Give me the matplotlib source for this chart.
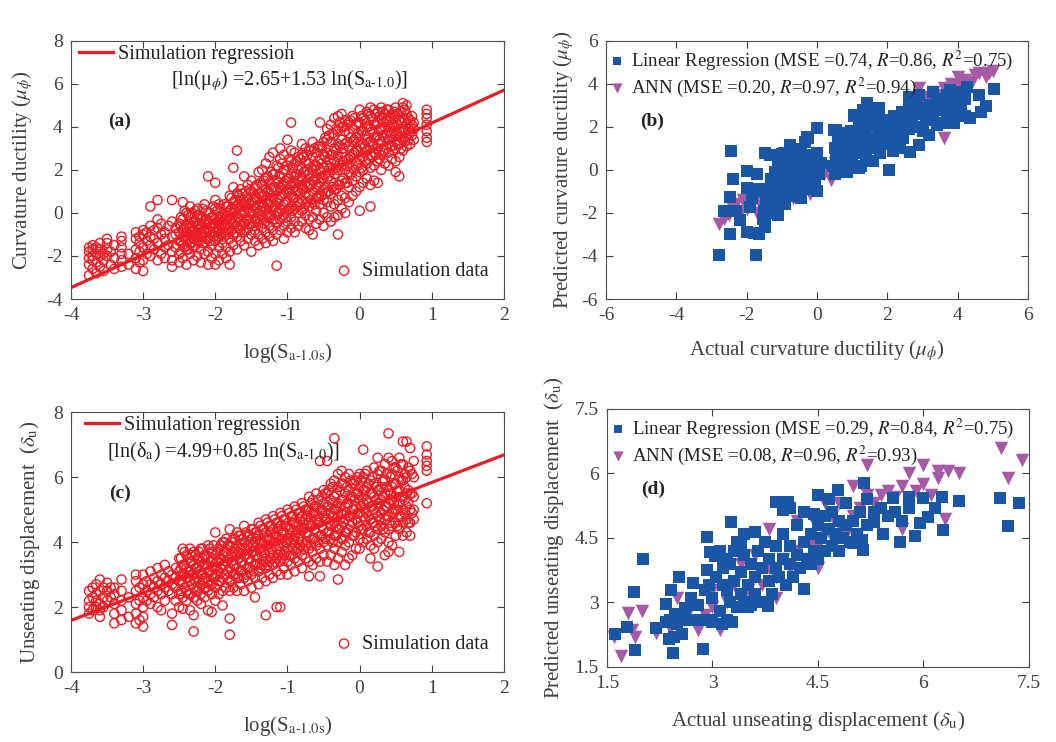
import matplotlib
matplotlib.use('Agg')
import matplotlib.pyplot as plt

plt.rcParams['font.family'] = ['Liberation Serif', 'DejaVu Serif']
plt.rcParams['mathtext.fontset'] = 'stix'
plt.rcParams['axes.unicode_minus'] = False

RED = '#ec1c24'
BLUE = '#1b56a6'
PURPLE = '#a65aa6'
GREY = '#404040'

# ---- (a) curvature ductility vs log(Sa) : columns of simulation data
a_col_x = [-3.75, -3.70, -3.65, -3.60, -3.55, -3.50, -3.45, -3.40, -3.30, -3.20, -3.10, -3.05, -3.00,
           -2.95, -2.90, -2.85, -2.80, -2.75, -2.70, -2.65, -2.60, -2.55, -2.50, -2.45, -2.40, -2.35,
           -2.30, -2.25, -2.20, -2.15, -2.10, -2.05, -2.00, -1.95, -1.90, -1.85, -1.80, -1.75, -1.70,
           -1.65, -1.60, -1.55, -1.50, -1.45, -1.40, -1.35, -1.30, -1.25, -1.20, -1.15, -1.10, -1.05,
           -1.00, -0.95, -0.90, -0.85, -0.80, -0.75, -0.70, -0.65, -0.60, -0.55, -0.50, -0.45, -0.40,
           -0.35, -0.30, -0.25, -0.20, -0.15, -0.10, -0.05, 0.00, 0.05, 0.10, 0.15, 0.20, 0.25, 0.30,
           0.35, 0.40, 0.45, 0.50, 0.55, 0.60, 0.65, 0.70, 0.75, 0.93]
a_col_y = [
    [-2.9, -2.4, -2.1, -1.8, -1.6], [-2.6, -2.2, -2.0, -1.7, -1.5], [-2.8, -2.3, -1.9, -1.6],
    [-2.5, -2.0, -1.7, -1.4], [-2.7, -2.2, -1.9], [-2.0, -1.7, -1.4, -1.2], [-2.4, -1.8],
    [-2.6, -2.1, -1.5], [-2.5, -2.2, -1.9, -1.6, -1.3, -1.1], [-2.4, -1.9],
    [-2.6, -2.1, -1.7, -1.2, -0.9], [-2.3, -1.8, -1.4, -1.1], [-2.7, -2.2, -1.6, -1.0, -0.8],
    [-1.9, -1.3, -0.9], [-2.0, -1.5, -1.1, -0.6, 0.3], [-1.7, -1.2, -0.8],
    [-2.2, -1.4, -0.7, -0.3, 0.6], [-1.9, -1.0, -0.5], [-2.1, -1.6, -1.2, -0.9], [-1.5, -0.6],
    [-2.5, -2.2, -1.8, -1.1, -0.4, 0.6], [-1.6, -1.0, -0.7], [-2.3, -1.9, -1.3, -0.9, -0.5],
    [-2.1, -1.5, -1.1, -0.8, -0.3, 0.5], [-2.4, -1.7, -1.2, -0.9, -0.6, 0.0],
    [-1.9, -1.4, -1.0, -0.7, -0.2, 0.3], [-2.2, -1.6, -1.2, -0.8, -0.4],
    [-2.0, -1.3, -1.0, -0.6, -0.1, 0.2], [-2.3, -1.7, -1.1, -0.7, -0.3],
    [-1.9, -1.4, -0.9, -0.5, 0.4], [-2.4, -1.8, -1.2, -0.8, -0.4, 0.0, 1.7],
    [-2.1, -1.5, -1.0, -0.6, -0.2], [-2.4, -1.9, -1.3, -0.9, -0.5, 0.2, 0.6, 1.4],
    [-2.2, -1.6, -1.1, -0.7, -0.3, 0.4], [-1.9, -1.4, -0.9, -0.5, -0.1],
    [-2.1, -1.6, -1.0, -0.6, -0.2, 0.3], [-2.4, -1.8, -1.2, -0.7, -0.3, 0.1, 0.8],
    [-1.5, -1.0, -0.5, 0.0, 0.5, 1.2, 2.1], [-1.7, -1.1, -0.6, -0.2, 0.3, 0.9, 2.9],
    [-1.3, -0.8, -0.4, 0.1, 0.6, 1.1], [-1.5, -0.9, -0.5, 0.0, 0.4, 1.7],
    [-1.2, -0.7, -0.3, 0.2, 0.7, 1.3], [-1.8, -1.0, -0.5, 0.0, 0.5, 1.0, 1.5],
    [-1.3, -0.8, -0.3, 0.2, 0.7, 1.2], [-1.5, -1.0, -0.5, 0.0, 0.4, 0.9, 1.9],
    [-1.2, -0.7, -0.2, 0.3, 0.8, 1.3, 2.0], [-1.4, -0.9, -0.4, 0.1, 0.6, 1.1, 1.6, 2.3],
    [-1.1, -0.6, -0.1, 0.4, 0.9, 1.4, 2.6], [-1.3, -0.8, -0.3, 0.2, 0.7, 1.2, 1.8, 2.8],
    [-2.45, -1.0, -0.5, 0.0, 0.5, 1.0, 1.5, 2.2], [-0.8, -0.3, 0.2, 0.7, 1.2, 1.7, 2.5, 3.0],
    [-1.2, -0.6, -0.1, 0.4, 0.9, 1.4, 2.0, 2.7], [-0.9, -0.4, 0.1, 0.6, 1.1, 1.6, 2.2, 3.4],
    [-0.7, -0.2, 0.3, 0.8, 1.3, 1.8, 2.4, 2.9, 4.2], [-0.9, -0.4, 0.2, 0.7, 1.2, 1.7, 2.3, 2.8],
    [-0.6, 0.0, 0.5, 1.0, 1.5, 2.0, 2.6], [-0.4, 0.1, 0.6, 1.1, 1.6, 2.1, 2.7, 3.2],
    [-0.7, -0.1, 0.4, 0.9, 1.4, 1.9, 2.4, 3.0], [-0.8, -0.3, 0.3, 0.8, 1.3, 1.8, 2.3, 2.9],
    [-1.0, -0.2, 0.5, 1.0, 1.5, 2.0, 2.6, 3.3], [-0.5, 0.1, 0.7, 1.2, 1.7, 2.2, 2.8],
    [-0.3, 0.4, 0.9, 1.4, 2.0, 2.5, 3.1, 4.2], [-0.6, 0.0, 0.6, 1.1, 1.6, 2.1, 2.7, 3.3],
    [-0.2, 0.5, 1.0, 1.6, 2.2, 2.8, 3.4, 3.9], [-0.4, 0.3, 0.9, 1.5, 2.1, 2.7, 3.3, 4.1],
    [-0.2, 0.4, 1.1, 1.8, 2.4, 3.0, 3.6, 4.4], [-1.0, -0.1, 0.6, 1.3, 2.0, 2.6, 3.2, 3.8, 4.5],
    [0.2, 0.8, 1.5, 2.2, 2.8, 3.4, 4.0, 4.6], [0.0, 0.7, 1.4, 2.0, 2.6, 3.2, 3.8, 4.3],
    [0.5, 1.2, 1.9, 2.5, 3.1, 3.7, 4.2], [0.8, 1.5, 2.1, 2.7, 3.3, 3.9, 4.5],
    [1.0, 1.7, 2.3, 2.9, 3.5, 4.1], [0.1, 1.2, 1.9, 2.5, 3.1, 3.6, 4.2, 4.8],
    [1.4, 2.0, 2.6, 3.2, 3.8, 4.4], [1.6, 2.3, 2.9, 3.4, 4.0, 4.7],
    [0.3, 1.3, 2.1, 2.7, 3.3, 3.9, 4.5, 4.9], [1.5, 2.2, 2.8, 3.5, 4.1, 4.8],
    [1.4, 2.4, 3.0, 3.6, 4.2, 4.7], [2.0, 2.7, 3.3, 3.9, 4.4, 4.9], [2.3, 2.9, 3.5, 4.0, 4.6],
    [2.2, 2.8, 3.4, 3.8, 4.3, 4.8], [2.5, 3.1, 3.7, 4.1, 4.6], [1.9, 2.4, 3.0, 3.6, 4.0, 4.5, 4.9],
    [1.7, 2.6, 3.2, 3.8, 4.3], [2.9, 3.4, 3.9, 4.4, 4.9, 5.1], [3.1, 3.6, 4.1, 4.6, 5.0],
    [3.2, 3.7, 4.0, 4.3], [3.4, 3.9, 4.2], [3.3, 3.5, 3.8, 4.1, 4.4, 4.6, 4.8]]

# extra samples in the dense core (between the columns above)
fill_col_x = [-2.475, -2.425, -2.375, -2.325, -2.275, -2.225, -2.175, -2.125, -2.075, -2.025,
              -1.975, -1.925, -1.875, -1.825, -1.775, -1.725, -1.675, -1.625, -1.575, -1.525,
              -1.475, -1.425, -1.375, -1.325, -1.275, -1.225, -1.175, -1.125, -1.075, -1.025,
              -0.975, -0.925, -0.875, -0.825, -0.775, -0.725, -0.675, -0.625, -0.575, -0.525,
              -0.475, -0.425, -0.375, -0.325, -0.275, -0.225, -0.175, -0.125, -0.075, -0.025,
              0.025, 0.075, 0.125, 0.175, 0.225, 0.275, 0.325, 0.375, 0.425, 0.475, 0.525, 0.575,
              0.625, 0.675, 0.725]
a_fill_y = [
    [-1.8, -1.3, -0.6, -0.2], [-1.6, -1.1, -0.7, 0.1], [-1.7, -1.2, -0.5, -0.1],
    [-1.4, -0.9, -0.6, 0.0], [-1.5, -1.0, -0.4, 0.1], [-1.3, -0.8, -0.5, -0.1],
    [-1.4, -1.0, -0.2, 0.2], [-1.2, -0.7, -0.3, 0.1], [-1.3, -0.9, -0.5, 0.0],
    [-1.1, -0.7, -0.2, 0.3], [-1.2, -0.8, -0.4, 0.1], [-1.0, -0.6, -0.2, 0.2],
    [-1.1, -0.7, -0.3, 0.4], [-0.9, -0.5, 0.0, 0.3], [-0.8, -0.3, 0.2, 0.7],
    [-0.9, -0.4, 0.1, 0.6], [-0.7, -0.2, 0.4, 0.8], [-0.6, -0.1, 0.3, 0.9],
    [-0.8, -0.3, 0.5, 1.0], [-0.5, 0.0, 0.4, 1.1], [-0.6, 0.1, 0.6, 0.9],
    [-0.4, 0.2, 0.7, 1.3], [-0.3, 0.1, 0.9, 1.4], [-0.5, 0.3, 0.8, 1.5],
    [-0.2, 0.4, 1.0, 1.7], [-0.1, 0.5, 1.1, 1.9], [-0.3, 0.3, 1.2, 1.8],
    [0.0, 0.6, 1.4, 2.1], [0.1, 0.8, 1.3, 2.3], [-0.2, 0.5, 1.5, 2.0],
    [0.2, 0.9, 1.6, 2.5], [0.1, 0.7, 1.4, 2.1], [0.3, 1.0, 1.8, 2.4],
    [0.4, 0.9, 1.7, 2.5], [0.2, 1.1, 1.9, 2.6], [0.5, 1.2, 2.0, 2.7],
    [0.6, 1.3, 2.1, 2.9], [0.4, 1.5, 2.2, 3.0], [0.7, 1.3, 2.4, 3.1],
    [0.8, 1.6, 2.3, 3.0], [0.9, 1.8, 2.6, 3.5], [1.0, 1.7, 2.5, 3.6],
    [1.2, 2.0, 2.7, 3.7], [1.1, 2.1, 2.9, 3.9], [1.3, 2.3, 3.1, 4.2],
    [1.6, 2.4, 3.0, 4.0], [1.4, 2.2, 3.3, 4.1], [1.8, 2.6, 3.5, 4.3],
    [2.0, 2.8, 3.4, 4.4], [2.2, 2.9, 3.7, 4.2], [2.1, 3.0, 3.8, 4.5],
    [2.4, 3.1, 3.6, 4.3], [2.5, 3.3, 4.0, 4.6], [2.6, 3.2, 3.8, 4.4],
    [2.7, 3.5, 4.1, 4.6], [2.5, 3.4, 3.9, 4.5], [2.8, 3.6, 4.2, 4.7],
    [3.0, 3.7, 4.3, 4.8], [3.1, 3.6, 4.0, 4.5], [2.9, 3.8, 4.4, 4.7],
    [3.2, 3.7, 4.1, 4.6], [3.0, 3.5, 4.2, 4.7], [3.3, 3.8, 4.3, 4.8],
    [3.4, 3.9, 4.4], [3.6, 4.1, 4.5]]
a_coef = (2.65, 1.53)

# ---- (c) unseating displacement vs log(Sa)
c_col_y = [
    [1.8, 2.0, 2.2, 2.5], [1.9, 2.3, 2.6], [2.0, 2.2, 2.4, 2.7], [1.7, 1.9, 2.1, 2.5, 2.85],
    [2.0, 2.3, 2.6], [2.2, 2.5, 2.75], [2.3, 2.6], [1.5, 1.8, 2.1, 2.4, 2.6],
    [1.6, 1.9, 2.2, 2.5, 2.85], [1.7, 2.3], [1.5, 1.8, 2.1, 2.5, 2.8, 3.0], [1.6, 2.2, 2.6],
    [1.4, 1.7, 2.0, 2.3, 2.7, 3.0], [2.2, 2.5, 2.8], [2.1, 2.4, 2.7, 3.1], [2.3, 2.6, 2.9],
    [2.0, 2.5, 2.8, 3.2], [1.9, 2.4, 2.7, 3.0], [2.2, 2.6, 2.9, 3.3], [2.5, 2.8, 3.1],
    [1.45, 1.8, 2.4, 2.7, 3.0], [2.2, 2.6, 2.9, 3.2], [2.0, 2.4, 2.8, 3.1, 3.5],
    [1.95, 2.3, 2.7, 3.0, 3.3, 3.8], [2.2, 2.5, 2.9, 3.2, 3.6], [1.9, 2.4, 2.8, 3.1, 3.4, 3.8],
    [1.25, 1.75, 2.3, 2.6, 3.0, 3.3, 3.7], [2.2, 2.5, 2.9, 3.2, 3.5],
    [2.1, 2.4, 2.7, 3.0, 3.4, 3.8], [2.3, 2.6, 2.9, 3.3, 3.6], [1.9, 2.5, 2.8, 3.1, 3.5, 3.9],
    [1.85, 2.4, 2.7, 3.0, 3.4, 3.7], [2.2, 2.6, 2.9, 3.2, 3.6, 4.3], [2.4, 2.8, 3.1, 3.4, 3.8],
    [2.05, 2.5, 2.9, 3.3, 3.6, 4.0], [2.6, 3.0, 3.4, 3.7, 4.1],
    [1.15, 1.65, 2.5, 2.8, 3.2, 3.5, 3.9, 4.4], [2.6, 3.0, 3.3, 3.7, 4.1],
    [2.5, 2.9, 3.2, 3.6, 3.9, 4.3], [2.7, 3.1, 3.4, 3.8, 4.2], [2.5, 2.9, 3.3, 3.6, 4.0, 4.5],
    [2.8, 3.2, 3.5, 3.9, 4.2], [2.6, 3.0, 3.4, 3.7, 4.1, 4.4], [2.3, 2.9, 3.3, 3.6, 4.0, 4.3],
    [2.7, 3.1, 3.5, 3.8, 4.2, 4.6], [2.9, 3.3, 3.6, 4.0, 4.4],
    [1.75, 2.8, 3.2, 3.5, 3.9, 4.3, 4.7], [3.0, 3.4, 3.7, 4.1, 4.5],
    [2.9, 3.3, 3.6, 4.0, 4.4, 4.8], [2.0, 3.1, 3.5, 3.8, 4.2, 4.6],
    [2.0, 3.0, 3.4, 3.7, 4.1, 4.5, 4.9], [3.2, 3.6, 3.9, 4.3, 4.7], [3.0, 3.4, 3.8, 4.1, 4.5, 5.0],
    [3.3, 3.6, 4.0, 4.4, 4.8], [3.1, 3.5, 3.9, 4.2, 4.6, 5.1], [3.4, 3.8, 4.1, 4.5, 4.9],
    [3.2, 3.6, 4.0, 4.4, 4.8, 5.2], [3.5, 3.9, 4.3, 4.7, 5.0],
    [2.95, 3.4, 3.8, 4.2, 4.6, 5.0, 5.4], [3.3, 3.7, 4.1, 4.5, 4.9, 5.3],
    [3.5, 3.9, 4.3, 4.7, 5.1, 5.5], [2.95, 3.4, 3.8, 4.2, 4.6, 5.0, 6.5],
    [3.6, 4.0, 4.4, 4.8, 5.2, 5.6], [3.4, 3.9, 4.3, 4.7, 5.1, 5.5, 6.5],
    [3.6, 4.1, 4.5, 4.9, 5.3, 5.8], [3.3, 3.8, 4.2, 4.6, 5.0, 5.4, 5.9, 7.2],
    [2.85, 3.5, 4.0, 4.4, 4.8, 5.2, 5.7, 6.1], [3.7, 4.1, 4.5, 4.9, 5.3, 5.8, 6.2],
    [3.3, 3.9, 4.3, 4.7, 5.1, 5.5, 6.0], [3.5, 4.0, 4.4, 4.8, 5.2, 5.6, 6.1],
    [3.6, 4.2, 4.6, 5.0, 5.4, 5.8], [3.8, 4.3, 4.7, 5.1, 5.5, 5.9],
    [3.8, 4.1, 4.5, 4.9, 5.3, 5.7, 6.1], [4.0, 4.4, 4.8, 5.2, 5.6, 6.0, 6.85],
    [4.1, 4.5, 4.9, 5.3, 5.7, 6.2], [3.5, 3.9, 4.3, 4.7, 5.1, 5.5, 5.9],
    [3.8, 4.2, 4.6, 5.0, 5.4, 5.8, 6.3], [3.25, 4.0, 4.4, 4.8, 5.2, 5.6, 6.1, 6.6],
    [4.1, 4.5, 4.9, 5.3, 5.7, 6.2], [3.6, 4.3, 4.7, 5.1, 5.5, 5.9, 6.4],
    [3.7, 4.0, 4.4, 4.8, 5.2, 5.6, 6.6, 7.35], [3.9, 4.5, 4.9, 5.3, 5.7, 6.1, 6.5],
    [4.2, 4.6, 5.0, 5.4, 5.8, 6.3], [3.7, 4.4, 4.8, 5.2, 5.6, 6.0, 6.6],
    [4.2, 4.6, 5.0, 5.4, 5.9, 6.4, 7.1], [4.3, 4.7, 5.1, 5.5, 6.0, 7.1],
    [4.2, 4.6, 5.0, 5.5, 6.2, 6.9], [4.7, 5.0, 5.4, 6.0, 6.5], [5.2, 6.2, 6.35, 6.5, 6.7, 6.95]]
c_fill_y = [
    [2.5, 2.8, 3.2, 3.5], [2.6, 3.0, 3.3, 3.7], [2.4, 2.9, 3.1, 3.5], [2.7, 3.0, 3.4, 3.6],
    [2.5, 2.8, 3.2, 3.6], [2.6, 3.1, 3.3, 3.7], [2.8, 3.0, 3.5, 3.8], [2.6, 2.9, 3.3, 3.6],
    [2.7, 3.1, 3.4, 3.8], [2.9, 3.2, 3.5, 3.9], [2.7, 3.0, 3.4, 3.7], [2.8, 3.2, 3.5, 3.9],
    [3.0, 3.3, 3.7, 4.0], [2.9, 3.1, 3.6, 3.9], [2.8, 3.4, 3.6, 4.0], [3.0, 3.3, 3.8, 4.1],
    [2.9, 3.5, 3.7, 4.2], [3.1, 3.4, 3.9, 4.1], [3.0, 3.6, 3.8, 4.3], [3.2, 3.5, 4.0, 4.2],
    [3.1, 3.7, 3.9, 4.4], [3.3, 3.6, 4.1, 4.3], [3.2, 3.8, 4.0, 4.5], [3.4, 3.7, 4.2, 4.4],
    [3.3, 3.9, 4.1, 4.6], [3.5, 3.8, 4.3, 4.5], [3.4, 4.0, 4.2, 4.7], [3.6, 3.9, 4.4, 4.6],
    [3.5, 4.1, 4.3, 4.8], [3.7, 4.0, 4.5, 4.7], [3.6, 4.2, 4.4, 4.9], [3.8, 4.1, 4.6, 4.8],
    [3.7, 4.3, 4.5, 5.0], [3.9, 4.2, 4.7, 4.9], [3.8, 4.4, 4.6, 5.1], [4.0, 4.3, 4.8, 5.0],
    [3.9, 4.5, 4.7, 5.2], [4.1, 4.4, 4.9, 5.1], [4.0, 4.6, 4.8, 5.3], [4.2, 4.5, 5.0, 5.4],
    [4.1, 4.7, 4.9, 5.5], [4.3, 4.6, 5.1, 5.6], [4.0, 4.8, 5.2, 5.7], [4.2, 4.5, 5.0, 5.5],
    [4.4, 4.7, 5.1, 5.6], [4.1, 4.6, 5.3, 5.8], [4.3, 4.9, 5.2, 5.7], [4.5, 4.8, 5.4, 5.9],
    [4.2, 5.0, 5.3, 5.8], [4.6, 4.9, 5.5, 6.0], [4.4, 5.1, 5.4, 5.9], [4.7, 5.0, 5.6, 6.1],
    [4.3, 4.8, 5.2, 5.8], [4.6, 5.1, 5.5, 6.0], [4.5, 4.9, 5.3, 5.7], [4.7, 5.2, 5.6, 6.2],
    [4.4, 5.0, 5.4, 5.9], [4.8, 5.1, 5.7, 6.1], [4.6, 5.3, 5.5, 6.0], [4.9, 5.2, 5.8, 6.3],
    [4.5, 5.0, 5.6, 6.2], [4.8, 5.4, 5.9, 6.4], [4.9, 5.3, 5.7, 6.1], [4.6, 5.2, 5.6, 6.3],
    [4.9, 5.5, 6.1]]
c_coef = (4.99, 0.85)

# ---- (b) predicted vs actual curvature ductility
b_lr = [(-2.78, -3.95), (-1.73, -3.95), (-2.49, -3.0), (-1.66, -3.0), (-1.47, -2.67), (-2.44, 0.88),
        (-2.4, -0.42), (-2.49, -1.24), (-2.66, -1.9), (-2.3, -1.9), (-1.99, -0.05), (-1.99, -0.85),
        (-1.9, -1.74), (-2.18, -2.33), (-1.99, -2.87), (-1.8, -2.95), (-1.47, -2.1), (-1.14, -2.0),
        (-1.47, 0.78), (-0.95, 0.78), (-0.76, 1.16), (-0.28, 1.55), (0.0, 1.94), (0.0, -1.0),
        (0.47, 1.86), (1.42, 3.1), (1.04, 2.56), (2.04, 0.0), (2.65, 0.85), (2.89, 1.16),
        (3.18, 1.63), (2.6, 3.41), (2.89, 3.49), (3.55, 2.17), (3.89, 2.17), (4.36, 2.4),
        (4.65, 2.71), (4.79, 2.95), (4.6, 3.49), (5.02, 3.75), (4.27, 3.85), (3.79, 3.72),
        (-1.4, -0.9), (-1.3, -0.4), (-1.25, -1.2), (-1.2, -0.1), (-1.15, -0.7), (-1.1, 0.3),
        (-1.05, -1.5), (-1.0, -0.3), (-0.95, -0.9), (-0.9, 0.2), (-0.9, -0.6), (-0.85, 0.6),
        (-0.8, -1.2), (-0.8, -0.2), (-0.75, 0.9), (-0.7, -0.7), (-0.7, 0.1), (-0.65, -0.4),
        (-0.6, 0.5), (-0.6, -1.0), (-0.55, -0.1), (-0.5, 0.3), (-0.5, -0.6), (-0.45, -1.3),
        (-0.45, 0.8), (-0.4, -0.3), (-0.4, 0.2), (-0.35, 1.3), (-0.35, -0.8), (-0.3, 0.0),
        (-0.3, 0.6), (-0.25, -0.5), (-0.25, 1.5), (-0.2, 0.3), (-0.2, -0.2), (-0.15, -0.9),
        (-0.15, 0.7), (-0.1, 0.0), (-0.1, 0.4), (-0.05, -0.4), (0.0, 0.8), (0.0, 0.1),
        (0.05, -0.2), (0.1, 0.3), (-1.35, 0.7), (-1.5, -1.9), (-1.45, -1.4), (-1.6, -1.0),
        (-1.7, -0.2), (-1.75, -0.9), (-1.85, -1.3), (-1.2, -1.8), (-1.1, -2.1), (-1.3, -1.6),
        (-1.55, -2.3), (-1.0, -1.0), (-0.9, -1.6), (-0.7, -1.1), (-0.55, 0.95), (-0.65, 0.7),
        (-1.0, 0.75), (0.45, 0.2), (0.5, 1.0), (0.5, -0.2), (0.55, 0.6), (0.6, 1.4), (0.65, 0.1),
        (0.7, 0.9), (0.75, 0.4), (0.8, 1.3), (0.85, -0.1), (0.9, 0.7), (0.95, 1.8), (1.0, 1.1),
        (1.0, 0.3), (1.05, 2.5), (1.1, 1.5), (1.15, 0.8), (1.2, 2.0), (1.25, 0.2), (1.3, 1.2),
        (1.35, 1.7), (1.4, 2.4), (1.4, 0.6), (1.5, 1.0), (1.5, 2.1), (1.55, 1.5), (1.6, 0.4),
        (1.65, 2.7), (1.7, 1.3), (1.75, 1.9), (1.8, 0.8), (1.85, 2.3), (1.9, 1.6), (2.0, 1.2),
        (1.2, 0.1), (1.3, 2.8), (0.7, 1.7), (1.75, 2.9), (0.55, 1.85), (1.6, 2.5), (2.0, 2.2),
        (2.1, 1.7), (2.2, 2.5), (2.25, 1.2), (2.3, 2.0), (2.4, 2.7), (2.45, 1.5), (2.5, 2.3),
        (2.6, 1.9), (2.6, 2.9), (2.7, 2.4), (2.8, 2.0), (2.8, 3.1), (2.9, 2.6), (3.0, 1.8),
        (3.0, 2.9), (3.1, 2.3), (3.2, 3.0), (3.3, 2.6), (3.4, 2.1), (3.4, 3.3), (3.5, 2.8),
        (3.6, 3.0), (3.7, 2.4), (3.7, 3.5), (3.8, 2.9), (3.9, 3.2), (4.0, 2.7), (4.0, 3.6),
        (4.1, 3.0), (4.2, 3.3), (4.2, 2.5), (2.35, 1.0), (2.15, 0.9), (3.6, 2.2), (3.3, 3.6)]
b_ann = [(-2.8, -2.5), (-2.65, -2.3), (-2.5, -2.1), (-2.4, -1.8), (-2.3, -1.6), (-2.2, -2.0),
         (-2.1, -1.4), (-2.0, -1.8), (-1.9, -1.2), (-1.85, -1.6), (-1.75, -1.3), (-1.7, -2.0),
         (-1.6, -1.7), (-1.5, -1.5), (-1.4, -1.1), (-1.3, -1.3), (-1.2, -0.9), (-1.1, -1.1),
         (-1.0, -0.8), (-0.9, -1.0), (-0.8, -0.6), (-0.7, -1.3), (-0.6, -0.5), (-0.5, -1.2),
         (-0.4, -0.4), (-0.3, -0.6), (-0.2, -1.1), (-0.1, -0.3), (0.0, -0.5), (0.2, -0.2),
         (0.4, -0.45), (0.5, 0.3), (0.6, 0.0), (0.8, 0.3), (0.9, 0.6), (1.0, 0.9), (1.2, 1.0),
         (1.3, 1.3), (1.5, 1.2), (1.6, 1.6), (1.8, 1.5), (2.0, 1.9), (2.2, 1.8), (2.3, 2.1),
         (2.5, 2.4), (2.6, 2.0), (2.7, 2.6), (2.8, 3.0), (2.9, 3.8), (3.0, 2.4), (3.1, 3.1),
         (3.2, 3.4), (3.3, 3.6), (3.4, 3.3), (3.5, 3.5), (3.6, 1.5), (3.6, 3.8), (3.7, 3.6),
         (3.8, 4.0), (3.9, 3.9), (4.0, 4.3), (4.1, 4.0), (4.2, 4.2), (4.4, 4.1), (4.6, 4.5),
         (4.8, 4.3), (4.9, 4.5), (5.0, 4.6), (4.5, 4.4), (1.7, 1.9), (1.1, 1.2), (0.7, 0.6),
         (2.4, 2.6), (3.0, 3.3), (-0.6, -0.9), (-1.3, -0.9), (4.3, 3.9), (3.9, 3.5)]

# ---- (d) predicted vs actual unseating displacement
d_lr = [(1.61, 2.27), (1.78, 2.43), (1.88, 3.25), (1.90, 1.89), (2.01, 4.01), (2.19, 2.41),
        (2.34, 2.97), (2.34, 2.55), (2.38, 2.16), (2.44, 1.82), (2.41, 3.28), (2.47, 2.73),
        (2.53, 3.58), (2.57, 2.27), (2.61, 2.86), (2.72, 3.44), (2.86, 1.92), (2.92, 4.53),
        (2.92, 3.75), (2.97, 4.18), (3.04, 4.08), (2.99, 2.58), (3.13, 2.51), (3.28, 2.55),
        (3.27, 4.86), (3.45, 4.59), (3.61, 4.64), (3.79, 2.91), (3.91, 5.34), (4.07, 5.34),
        (4.30, 3.31), (4.50, 5.50), (4.79, 5.61), (5.16, 5.77), (5.14, 4.22), (5.12, 4.45),
        (5.67, 4.41), (5.88, 4.55), (6.27, 5.46), (6.28, 4.68), (6.51, 5.36), (7.09, 5.42),
        (7.20, 4.78), (7.36, 5.30), (6.16, 5.19), (6.07, 4.99), (5.95, 4.84), (5.80, 5.46),
        (5.57, 5.42), (5.43, 4.60), (5.30, 4.88), (5.00, 4.37), (6.0, 5.42),
        (2.65, 2.6), (2.7, 3.1), (2.75, 2.6), (2.8, 2.95), (2.85, 2.6), (2.9, 3.3), (2.95, 2.6),
        (3.0, 3.1), (3.05, 3.6), (3.1, 2.8), (3.15, 3.8), (3.2, 3.3), (3.2, 2.6), (3.25, 3.9),
        (3.25, 3.0), (3.3, 4.2), (3.3, 3.5), (3.35, 2.9), (3.4, 3.7), (3.4, 3.2), (3.45, 4.1),
        (3.5, 3.4), (3.5, 2.9), (3.55, 3.9), (3.6, 3.6), (3.6, 3.2), (3.65, 4.2), (3.7, 3.8),
        (3.7, 3.0), (3.75, 4.4), (3.8, 3.5), (3.8, 4.0), (3.85, 3.2), (3.9, 3.8), (3.9, 4.3),
        (3.95, 3.6), (4.0, 4.0), (4.0, 4.6), (4.05, 3.4), (4.1, 3.9), (4.1, 4.3), (4.15, 3.6),
        (4.2, 4.1), (4.2, 4.8), (4.25, 3.8), (4.3, 4.4), (4.3, 5.1), (4.35, 4.0), (4.4, 4.6),
        (4.4, 3.9), (4.45, 4.2), (4.5, 4.8), (4.5, 4.0), (4.55, 4.5), (4.6, 5.0), (4.6, 4.2),
        (4.65, 4.7), (4.7, 4.3), (4.7, 5.1), (4.75, 4.6), (4.8, 4.2), (4.8, 4.9), (4.85, 4.5),
        (4.9, 4.8), (4.95, 4.4), (5.0, 4.9), (5.05, 4.6), (5.1, 5.1), (5.2, 5.4), (5.2, 4.8),
        (5.3, 5.1), (5.4, 5.2), (5.5, 5.0), (5.6, 5.1), (5.7, 4.9), (5.8, 5.2), (4.1, 5.2),
        (4.0, 5.15), (3.45, 3.0), (3.55, 2.95), (3.15, 3.4), (2.95, 3.4), (3.4, 4.35),
        (3.1, 4.2), (3.2, 4.0), (2.7, 2.95), (2.45, 2.2), (2.5, 2.5), (2.4, 2.6), (2.6, 2.7),
        (3.0, 2.55), (3.35, 4.4), (4.65, 5.4), (4.9, 5.3), (4.45, 5.05)]
d_ann = [(2.6, 2.6), (2.9, 2.7), (3.0, 2.9), (3.2, 3.0), (3.3, 3.4), (3.5, 3.3), (3.6, 3.6),
         (3.7, 3.4), (3.8, 3.8), (3.9, 3.6), (4.0, 4.0), (4.1, 3.8), (4.2, 4.2), (4.3, 4.0),
         (4.4, 4.4), (4.5, 4.3), (4.6, 4.6), (4.7, 4.5), (4.8, 4.8), (4.9, 4.6), (5.0, 5.0),
         (5.1, 5.2), (5.2, 5.5), (5.3, 5.3), (5.4, 5.5), (5.5, 5.6), (5.6, 5.45), (5.7, 5.7),
         (5.8, 5.4), (5.9, 5.6), (6.0, 5.75), (6.1, 5.5), (6.3, 4.95), (6.2, 5.9), (5.2, 6.2),
         (5.8, 6.0), (6.0, 6.2), (6.2, 6.05), (6.35, 6.05), (6.5, 6.0), (7.1, 6.6), (7.2, 5.9),
         (7.4, 6.3), (4.6, 5.3), (4.8, 5.3), (4.2, 4.9), (3.8, 4.7), (4.5, 3.8), (3.9, 3.1),
         (2.2, 2.3), (2.4, 2.4), (2.0, 2.8), (1.6, 2.2), (1.7, 1.75), (1.8, 2.75), (1.85, 2.35),
         (1.9, 2.2), (2.5, 3.1), (2.8, 2.35), (3.1, 2.35), (3.6, 4.1), (5.7, 4.7), (5.0, 5.7),
         (3.4, 3.9), (3.0, 3.3), (2.7, 2.9), (4.4, 5.0), (4.7, 5.0)]

d_ticks = [1.5, 3, 4.5, 6, 7.5]
d_tick_labels = ['1.5', '3', '4.5', '6', '7.5']


def style(ax):
    ax.tick_params(direction='in', top=True, right=True, length=5, width=0.8,
                   colors=GREY, labelsize=14, pad=6)
    for s in ax.spines.values():
        s.set_color('#505050')
        s.set_linewidth(0.8)


def flatten(col_x, col_y):
    xs = [x for x, ys in zip(col_x, col_y) for _ in ys]
    ys = [y for ys in col_y for y in ys]
    return xs, ys


fig = plt.figure(figsize=(10.56, 7.42), dpi=100)
ax_a = fig.add_axes([0.0672, 0.597, 0.410, 0.348])
ax_b = fig.add_axes([0.574, 0.597, 0.3996, 0.348])
ax_c = fig.add_axes([0.0672, 0.0943, 0.410, 0.350])
ax_d = fig.add_axes([0.5748, 0.1011, 0.3996, 0.348])


def regression_panel(ax, col_y, fill_y, coef, ylim, ylabel, eq, eq_pos, tag, line_anchor):
    xs, ys = flatten(a_col_x, col_y)
    fx, fy = flatten(fill_col_x, fill_y)
    sc = ax.scatter(xs + fx, ys + fy, s=44, facecolors='none', edgecolors=RED, linewidths=1.0,
                    label='Simulation data', zorder=2)
    lx = [-4, 2]
    ln, = ax.plot(lx, [coef[0] + coef[1] * v for v in lx], color=RED, lw=2.3,
                  label='Simulation regression', zorder=3)
    ax.set_xlim(-4, 2)
    ax.set_ylim(*ylim)
    ax.set_xticks(range(-4, 3))
    style(ax)
    leg1 = ax.legend(handles=[ln], loc='upper left', bbox_to_anchor=line_anchor, frameon=False,
                     fontsize=14.5, handlelength=1.7, handletextpad=0.25, borderaxespad=0,
                     borderpad=0)
    for t in leg1.get_texts():
        t.set_color('#222222')
    ax.add_artist(leg1)
    leg2 = ax.legend(handles=[sc], loc='lower right', bbox_to_anchor=(0.965, 0.07), frameon=False,
                     fontsize=14.5, handlelength=0.8, handletextpad=0.5, borderaxespad=0,
                     borderpad=0)
    for t in leg2.get_texts():
        t.set_color('#222222')
    ax.text(eq_pos[0], eq_pos[1], eq, transform=ax.transAxes, fontsize=14.5, color='#222222',
            ha='left', va='center')
    ax.text(0.113, 0.687, tag, transform=ax.transAxes, fontsize=14, fontweight='bold',
            color='#222222', ha='center', va='center')
    ax.set_xlabel('log(S$_{\\mathrm{a\\text{-}1.0s}}$)', fontsize=15, color=GREY, labelpad=12)
    ax.set_ylabel(ylabel, fontsize=15, color=GREY, labelpad=8)


regression_panel(ax_a, a_col_y, a_fill_y, a_coef, (-4, 8), 'Curvature ductility ($\\mu_{\\phi}$)',
                 '[ln(μ$_{\\phi}$) =2.65+1.53 ln(S$_{\\mathrm{a\\text{-}1.0}}$)]', (0.232, 0.848),
                 '(a)', (0.018, 0.985))
regression_panel(ax_c, c_col_y, c_fill_y, c_coef, (0, 8),
                 'Unseating displacement  ($\\delta_{\\mathrm{u}}$)',
                 '[ln(δ$_{\\mathrm{a}}$) =4.99+0.85 ln(S$_{\\mathrm{a\\text{-}1.0}}$)]', (0.083, 0.846),
                 '(c)', (0.032, 0.985))
ax_c.set_yticks([0, 2, 4, 6, 8])


def prediction_panel(ax, lr, ann, lims, ticks, lr_lab, ann_lab, xlabel, ylabel, tag, ypad):
    h_ann = ax.scatter([p[0] for p in ann], [p[1] for p in ann], marker='v', s=95,
                       color=PURPLE, linewidths=0, zorder=2, label=ann_lab)
    h_lr = ax.scatter([p[0] for p in lr], [p[1] for p in lr], marker='s', s=70,
                      color=BLUE, linewidths=0, zorder=3, label=lr_lab)
    ax.set_xlim(*lims)
    ax.set_ylim(*lims)
    ax.set_xticks(ticks)
    ax.set_yticks(ticks)
    style(ax)
    leg = ax.legend(handles=[h_lr, h_ann], loc='upper left', bbox_to_anchor=(0.0, 0.985),
                    frameon=False, fontsize=13.6, handlelength=0.8, handletextpad=0.3,
                    labelspacing=0.2, borderaxespad=0, borderpad=0.2, markerscale=0.75)
    for t in leg.get_texts():
        t.set_color('#222222')
    ax.text(0.11, 0.687, tag, transform=ax.transAxes, fontsize=14, fontweight='bold',
            color='#222222', ha='center', va='center')
    ax.set_xlabel(xlabel, fontsize=15, color=GREY, labelpad=10)
    ax.set_ylabel(ylabel, fontsize=15, color=GREY, labelpad=ypad)


prediction_panel(ax_b, b_lr, b_ann, (-6, 6), range(-6, 7, 2),
                 'Linear Regression (MSE =0.74, $R$=0.86, $R^{2}$=0.75)',
                 'ANN (MSE =0.20, $R$=0.97, $R^{2}$=0.94)',
                 'Actual curvature ductility ($\\mu_{\\phi}$)',
                 'Predicted curvature ductility ($\\mu_{\\phi}$)', '(b)', 4)
prediction_panel(ax_d, d_lr, d_ann, (1.5, 7.5), d_ticks,
                 'Linear Regression (MSE =0.29, $R$=0.84, $R^{2}$=0.75)',
                 'ANN (MSE =0.08, $R$=0.96, $R^{2}$=0.93)',
                 'Actual unseating displacement ($\\delta_{\\mathrm{u}}$)',
                 'Predicted unseating displacement  ($\\delta_{\\mathrm{u}}$)', '(d)', 6)
ax_d.set_xticklabels(d_tick_labels)
ax_d.set_yticklabels(d_tick_labels)
ax_d.xaxis.labelpad = 12

fig.savefig('out.png', dpi=100)
